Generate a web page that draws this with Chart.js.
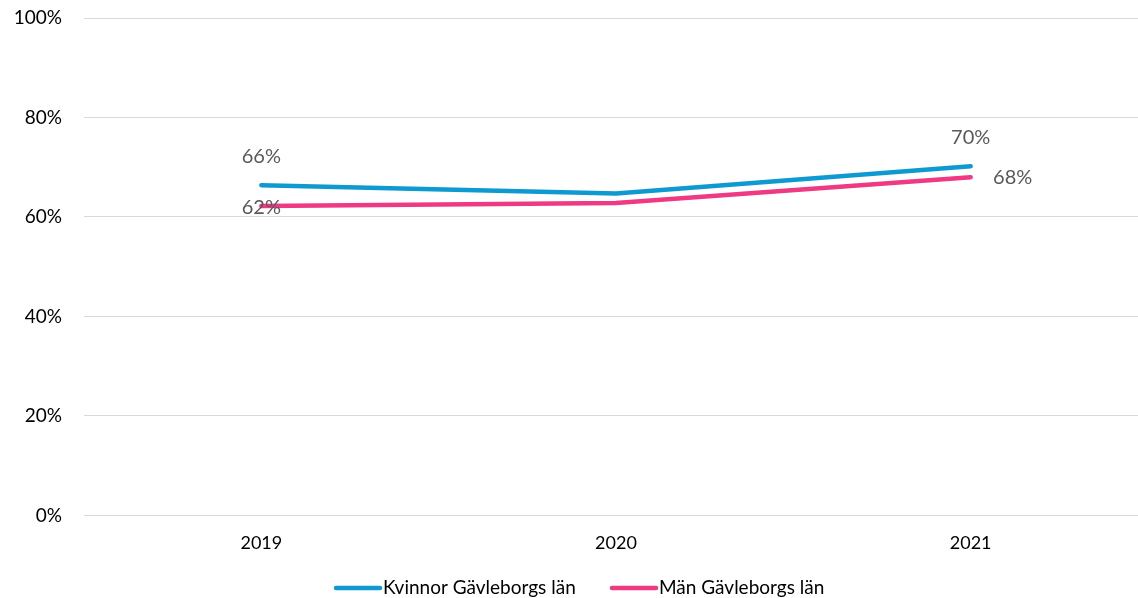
<!DOCTYPE html>
<html>
<head>
<meta charset="utf-8">
<script src="https://cdn.jsdelivr.net/npm/chart.js@4/dist/chart.umd.min.js"></script>
<style>
html, body { margin: 0; padding: 0; overflow: hidden; background: #fff; }
#wrap { width: 1148px; height: 598px; position: relative; }
</style>
</head>
<body>
<div id="wrap"><canvas id="chart1"></canvas></div>
<script>
const years = ['2019', '2020', '2021'];
const kvinnor = [66.4, 64.7, 70.2];
const man = [62.2, 62.8, 68.0];
const kvinnorLabels = ['66%', null, '70%'];
const manLabels = ['62%', null, '68%'];
const seriesNames = ['Kvinnor Gävleborgs län', 'Män Gävleborgs län'];

const FONT = 'Lato, "Open Sans", sans-serif';
const BLUE = '#0E9AD1';
const PINK = '#EE3A82';

// value labels, placed like in the excel chart
const valueLabels = {
	id: 'valueLabels',
	afterDatasetsDraw(chart) {
		const ctx = chart.ctx;
		ctx.save();
		ctx.font = '20px ' + FONT;
		ctx.fillStyle = '#595959';
		ctx.textAlign = 'center';
		ctx.textBaseline = 'middle';
		chart.data.datasets.forEach((ds, i) => {
			const meta = chart.getDatasetMeta(i);
			ds.valueLabels.forEach((txt, j) => {
				if (!txt) return;
				const pt = meta.data[j];
				let dx = 0, dy = 0;
				const pos = ds.labelPos[j];
				if (pos === 'above') dy = -29;
				if (pos === 'on') dy = 2;
				if (pos === 'right') dx = 42;
				ctx.fillText(txt, pt.x + dx, pt.y + dy);
			});
		});
		ctx.restore();
	}
};

// legend drawn under the axis
const lineLegend = {
	id: 'lineLegend',
	afterDraw(chart) {
		const ctx = chart.ctx;
		const starts = [334, 610];
		const y = 588;
		ctx.save();
		ctx.font = '19px ' + FONT;
		ctx.textBaseline = 'middle';
		ctx.textAlign = 'left';
		chart.data.datasets.forEach((ds, i) => {
			const x = starts[i];
			ctx.strokeStyle = ds.borderColor;
			ctx.lineWidth = 4.5;
			ctx.lineCap = 'round';
			ctx.beginPath();
			ctx.moveTo(x + 2, y);
			ctx.lineTo(x + 46, y);
			ctx.stroke();
			ctx.fillStyle = '#000';
			ctx.fillText(ds.label, x + 49, y);
		});
		ctx.restore();
	}
};

const ds = {
	labels: years,
	datasets: [{
		label: seriesNames[0],
		data: kvinnor,
		valueLabels: kvinnorLabels,
		labelPos: ['above', '', 'above'],
		borderColor: BLUE,
		backgroundColor: BLUE,
		borderWidth: 4.5,
		borderCapStyle: 'round',
		pointRadius: 0,
		tension: 0
	}, {
		label: seriesNames[1],
		data: man,
		valueLabels: manLabels,
		labelPos: ['on', '', 'right'],
		borderColor: PINK,
		backgroundColor: PINK,
		borderWidth: 4.5,
		borderCapStyle: 'round',
		pointRadius: 0,
		tension: 0
	}]
};

const options = {
	responsive: true,
	maintainAspectRatio: false,
	animation: false,
	layout: { padding: { top: 18, bottom: 27, left: 0, right: 0 } },
	plugins: {
		legend: { display: false },
		tooltip: { enabled: false }
	},
	scales: {
		x: {
			offset: true,
			grid: { display: false, drawTicks: false },
			border: { display: false },
			ticks: { color: '#000', font: { family: FONT, size: 18 }, padding: 17 }
		},
		y: {
			min: 0,
			max: 100,
			afterFit: (scale) => {
				scale.width = 84;
				// tick padding is horizontal here, don't let it push the top down
				scale.paddingTop = 10;
				scale.paddingBottom = 10;
			},
			grid: { color: '#d9d9d9', lineWidth: 1, drawTicks: false },
			border: { display: false },
			ticks: {
				stepSize: 20,
				color: '#000',
				padding: 22,
				font: { family: FONT, size: 19 },
				callback: (value) => `${value}%`
			}
		}
	}
};

const ctx1 = document.getElementById('chart1').getContext('2d');
const myLineChart = new Chart(ctx1, {
	type: 'line',
	data: ds,
	options: options,
	plugins: [valueLabels, lineLegend]
});
</script>
</body>
</html>
